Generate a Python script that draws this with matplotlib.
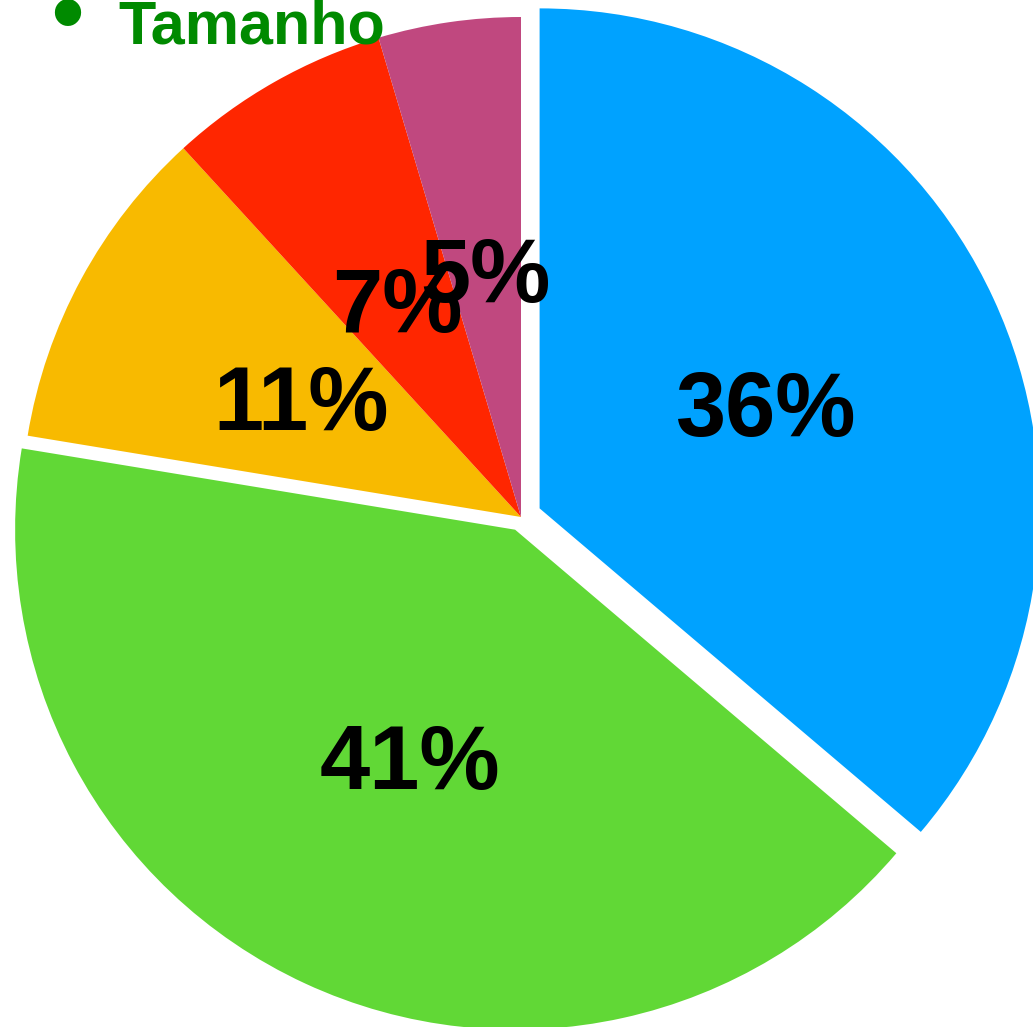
import matplotlib
matplotlib.use("Agg")
import matplotlib.pyplot as plt
from matplotlib.transforms import offset_copy

# Data
categories = ["A", "B", "C", "D", "E"]
values = [36.2, 41.4, 10.6, 7.2, 4.6]
colors = ["#00A2FF", "#61D836", "#F8BA00", "#FF2600", "#C0487F"]
explode = [0.041, 0.028, 0, 0, 0]
legend_label = "Tamanho"

W, H = 1033, 1027
fig = plt.figure(figsize=(W / 100, H / 100), dpi=100)
ax = fig.add_axes([0, 0, 1, 1])

plt.rcParams['font.family'] = ['Liberation Sans', 'DejaVu Sans']

wedges, texts, autotexts = ax.pie(
    values, colors=colors, explode=explode, startangle=90, counterclock=False,
    autopct="%.0f%%", pctdistance=0.5, radius=1.0,
    wedgeprops=dict(linewidth=0),
    textprops=dict(fontsize=65, fontweight="bold", color="black",
                   family=["Liberation Sans", "DejaVu Sans"]))

# map data units: center at pixel (521, 517), radius 500 px
s = 1 / 500
cx, cy = 521, 517
ax.set_xlim(-cx * s, (W - cx) * s)
ax.set_ylim(-(H - cy) * s, cy * s)
ax.set_aspect("auto")
ax.axis("off")

# nudge labels slightly down to match the visual centring of the reference
for t in autotexts:
    t.set_transform(offset_copy(ax.transData, fig=fig, x=0, y=-9, units="dots"))

# legend-like header
fig.text(118 / W, 1 - 44 / H, legend_label, color="#008A00", fontsize=44,
         fontweight="bold", ha="left", va="baseline",
         family=["Liberation Sans", "DejaVu Sans"])
fig.text(67 / W, 1 - 19 / H, "\u2022", color="#008A00", fontsize=66,
         fontweight="bold", ha="center", va="center",
         family=["Liberation Sans", "DejaVu Sans"])

fig.savefig("out.png", dpi=100)
